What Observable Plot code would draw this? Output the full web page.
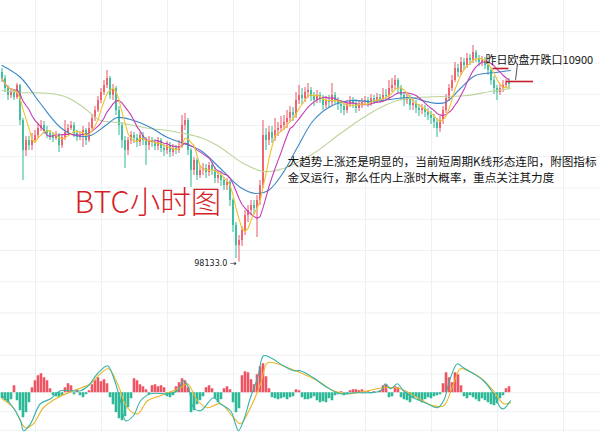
<!DOCTYPE html>
<html><head><meta charset="utf-8">
<script src="https://cdn.jsdelivr.net/npm/d3@7"></script>
<script src="https://cdn.jsdelivr.net/npm/@observablehq/plot@0.6"></script>
<style>
html,body{margin:0;padding:0;background:#fff;}
#wrap{width:600px;height:432px;overflow:hidden;}
#wrap svg{display:block;}
</style></head><body><div id="wrap"></div>
<script>
// ---- hourly candles (USD) ----
const firstOpen = 104196;
const closes = [104004,103684,103460,103556,103396,103780,102660,101700,102020,101860,
102020,102180,102404,102500,102340,102244,102148,102084,102180,101860,
102116,102276,102404,102500,102244,102116,102180,102340,102020,102404,
102724,102980,103300,103556,103780,104004,103460,103684,102980,102500,
102020,101700,102020,102180,102084,101956,102180,102020,101860,102020,
101956,101828,102020,101764,101700,101860,101636,101764,101700,101828,
102500,102660,101700,101060,101380,100900,101060,101124,100996,101220,
101060,100804,100900,100740,100580,100676,100100,99300,98660,98820,
99140,99620,99780,99940,99844,100100,100580,102180,102020,102276,
102084,102340,102404,102500,102596,102724,102916,102820,103300,103460,
103364,103556,103620,103428,103300,103460,103364,103140,103300,103236,
103460,103300,103172,103108,102980,103172,103300,103204,103044,103140,
103236,103300,103204,103364,103300,103396,103332,103460,103428,103684,
103780,103940,103684,103460,103300,103364,103140,103204,103044,102980,
103044,102916,102820,102724,102596,102404,102660,102980,103364,103684,
103940,104324,104196,104516,104420,104644,104580,104836,104644,104516,
104580,104420,104260,103940,103684,103556,103684,103780,103876,103812];
const highs = [104324,104100,103780,103684,103652,103844,103812,102724,102148,102148,
102244,102340,102564,102660,102628,102468,102340,102276,102308,102244,
102212,102660,102532,102628,102596,102340,102308,102468,102404,102596,
102852,103108,103428,103684,103940,104260,104068,103812,103748,103108,
102596,102148,102116,102308,102276,102212,102276,102276,102116,102148,
102116,102052,102116,102084,101892,101988,101956,101892,101860,102020,
102820,102884,102724,101764,101476,101444,101220,101284,101252,101316,
101316,101156,101028,100996,100836,100804,100740,100164,99396,98980,
99268,99780,99940,100100,100100,100260,100740,102660,102404,102468,
102468,102724,102596,102788,102820,102980,103108,103076,103556,103780,
103684,103716,103844,103716,103556,103620,103556,103460,103428,103460,
103844,103556,103396,103300,103204,103300,103428,103396,103332,103300,
103364,103428,103396,103492,103460,103524,103492,103684,103652,103940,
104004,104100,104004,103780,103556,103492,103460,103332,103300,103172,
103172,103140,103044,102948,102852,102724,102788,103108,103492,103812,
104100,104516,104452,104676,104644,104804,104772,105060,104900,104740,
104708,104676,104516,104324,104068,103780,103812,103940,103972,104004];
const lows = [103876,103556,103300,103364,103300,103332,102500,100740,101508,101700,
101700,101924,102084,102308,102212,102084,102020,101956,102020,101636,
101764,102020,102180,102340,102116,101988,102020,101796,101860,101956,
102340,102628,102916,103204,103460,103684,103332,103300,102820,102180,
101764,101124,101540,101892,101924,101796,101828,101860,101220,101700,
101796,101700,101700,101636,101508,101572,101476,101508,101572,101604,
101764,102340,101540,100516,100900,100740,100804,100900,100804,100868,
100900,100644,100644,100548,100420,100420,99908,99076,98244,98133,
98628,98980,99396,99620,99652,98916,99940,100484,101700,101860,
101924,101988,102148,102276,102340,102404,102596,102628,102724,103172,
103172,103236,103364,103268,103108,103204,103204,102980,103044,103044,
103108,103172,102980,102884,102820,102884,103076,103044,102884,102948,
103044,103140,103076,103108,103172,103204,103204,103236,103300,103332,
103556,103620,103524,103300,103108,103172,102980,102980,102884,102788,
102852,102756,102660,102532,102404,102116,102276,102532,102884,103268,
103588,103876,104036,104100,104260,104324,104420,104484,104516,104388,
104388,104292,104100,103780,103492,103300,103460,103556,103684,103684];

// ---- long moving averages (candle index, USD) ----
const maBlueT = [0,6.2,12.8,19.5,24.5,29.5,34.5,38.5,43.8,49.5,55.2,60.5,66.2,72.8,79.5,84.5,88.8,93.8,98.8,103.8,109.5,116.2,122.8,129.5,136.2,142.8,147.8,152.8,157.8,164.5,169.5];
const maBlueP = [104420,104036,103204,102436,102180,102180,102500,102756,102660,102436,102116,101924,101700,101124,100516,100324,100420,101000,101860,102660,103110,103300,103268,103332,103396,103236,103236,103684,104100,104196,104260];
const maOliveT = [0,6.2,16.2,21.8,27.2,32.8,38.5,43.8,49.5,55.2,60.5,66.2,71.8,80.5,87.2,93.8,103.8,112.8,120.5,126.2,131.8,138.5,146.2,155.2,162.8,169.5];
const maOliveP = [103620,103556,103524,103396,103076,102660,102596,102500,102404,102340,102244,102116,101860,101284,101028,101124,101604,102244,102756,103076,103300,103396,103428,103460,103588,103684];

// ---- MACD (histogram per candle, DIF / DEA read at points) ----
const macdHist = [-24,-32,-40,-28,28,-32,-72,-100,-80,-40,
20,48,68,76,60,48,16,-12,-16,-20,
-12,20,36,28,-8,12,-12,-20,-8,8,
32,48,60,44,52,36,-20,-48,-80,-104,
-112,-96,-60,-24,56,48,32,24,12,-8,
28,32,24,28,20,-16,-20,-12,24,40,
56,48,20,-80,-72,-48,-32,-16,20,28,
16,-24,-40,-28,16,24,12,-40,-80,-64,
68,84,80,52,32,72,104,116,64,16,
-20,-24,-28,-24,-20,-28,-20,-16,12,8,
-20,-28,-28,-24,-16,-32,-40,-36,-40,-24,
-32,-12,-8,4,-12,-8,8,12,12,8,
12,4,4,-4,4,0,8,28,32,-20,
-16,24,20,-20,-28,-32,-40,-24,-20,-32,
-40,-28,-20,-24,-16,-12,-8,36,80,60,
40,80,72,28,-16,-24,-12,-20,-28,-36,
-24,-32,-40,-48,-52,-44,-24,-12,16,24];
const difT = [0,2.8,6.2,7.2,9.5,12.8,16.2,19.5,22.8,26.2,28.8,31.8,35.2,37.2,39.5,41.2,43.8,46.2,49.5,55.2,58.5,60.5,62.2,63.8,66.2,70.5,72.8,76.2,77.8,78.8,80.5,82.8,85.2,87.2,89.5,93.8,97.2,99.5,103.8,108.5,112.8,117.2,121.8,126.2,127.8,129.5,131.8,133.8,137.2,141.8,145.2,147.2,149.5,151.8,153.8,157.2,160.5,163.8,166.2,167.2,169.5];
const difV = [-12,-44,-112,-152,-124,-44,-24,8,8,8,28,76,108,60,-32,-112,-92,-32,-4,-4,8,48,20,-60,-72,-20,-44,-72,-124,-152,-112,-20,60,148,140,108,88,88,60,20,-4,0,0,8,36,16,36,8,-20,-44,-60,-32,60,116,100,76,48,-4,-60,-64,-32];
const deaT = [0,3.8,7.8,10.5,13.8,18.5,23.8,29.5,32.8,35.5,38.5,41.8,45.2,48.5,52.8,59.5,61.8,65.2,68.5,72.8,77.2,79.5,82.8,86.2,88.5,91.8,96.2,99.5,105.2,110.5,115.2,121.8,127.2,132.8,138.5,143.8,147.2,150.5,152.8,155.2,159.5,163.8,167.2,169.5];
const deaV = [-24,-60,-140,-124,-60,-20,8,36,76,96,36,-60,-84,-32,-12,20,36,-32,-60,-44,-100,-124,-60,36,120,116,96,80,48,8,-4,8,20,16,-20,-52,-52,36,96,88,60,8,-44,-40];

// ---- axes / grid values ----
const priceGrid = [105500,104500,103500,102500,101500,100500,99500,98500,97500,96500];
const timeGrid = [11.17,33.17,55.17,77.17,99.17,121.17,143.17,165.17,187.17];
const macdGrid = [150,75,0,-75,-150];

// ---- annotations ----
const gapLinesT1 = [163.5,168];
const gapLinesT2 = [168.8,177];
const gapLinesP = [104324,103908];
const leaderT = [171.8,171.2];
const leaderP = [104452,103972];
const notes = [
  {t:161.2, p:104580, text:"昨日欧盘开跌口10900", size:11},
  {t:95.2, p:101316, text:"大趋势上涨还是明显的，当前短周期K线形态连阳，附图指标", size:11.6},
  {t:95.2, p:100804, text:"金叉运行，那么任内上涨时大概率，重点关注其力度", size:11.6}
];
const title = [{t:24.2, p:100000, text:"BTC小时图"}];
const lowLabel = [{t:78.2, p:98090, text:"98133.0 →"}];

const UP = "#ee5463", DOWN = "#2cb997", GRID = "#eef1f3";
const FONT = "'Noto Sans CJK SC','Noto Sans',sans-serif";

const candles = closes.map((c, i) => ({
  i, open: i ? closes[i - 1] : firstOpen, close: c, high: highs[i], low: lows[i]
}));
const col = d => d.close >= d.open ? UP : DOWN;
const blue = maBlueT.map((t, k) => ({t, p: maBlueP[k]}));
const olive = maOliveT.map((t, k) => ({t, p: maOliveP[k]}));
const gaps = gapLinesP.map((p, k) => ({t1: gapLinesT1[k], t2: gapLinesT2[k], p}));
const leader = leaderT.map((t, k) => ({t, p: leaderP[k]}));

const X = {domain: [-0.5, 199.5], range: [0, 600]};

const main = Plot.plot({
  width: 600, height: 340, margin: 0,
  x: {...X, axis: null},
  y: {domain: [95620, 106500], range: [340, 0], axis: null},
  style: {fontFamily: FONT, background: "transparent"},
  marks: [
    Plot.ruleY(priceGrid, {stroke: GRID}),
    Plot.ruleX(timeGrid, {stroke: GRID}),
    Plot.ruleX(candles, {x: "i", y1: "low", y2: "high", stroke: col, strokeWidth: 1}),
    Plot.ruleX(candles, {x: "i", y1: "open", y2: "close", stroke: col, strokeWidth: 1.6}),
    Plot.line(olive, {x: "t", y: "p", stroke: "#bcd49a", strokeWidth: 1.1, curve: "catmull-rom"}),
    Plot.line(blue, {x: "t", y: "p", stroke: "#3d86c6", strokeWidth: 1.1, curve: "catmull-rom"}),
    Plot.lineY(candles, Plot.windowY({k: 10, anchor: "end", reduce: "mean"}, {x: "i", y: "close", stroke: "#c53db4", strokeWidth: 1.1})),
    Plot.lineY(candles, Plot.windowY({k: 5, anchor: "end", reduce: "mean"}, {x: "i", y: "close", stroke: "#f1c232", strokeWidth: 1.1})),
    Plot.link(gaps, {x1: "t1", x2: "t2", y1: "p", y2: "p", stroke: "#c3202b", strokeWidth: 1.6}),
    Plot.line(leader, {x: "t", y: "p", stroke: "#222", strokeWidth: 0.8}),
    Plot.text(notes, {x: "t", y: "p", text: "text", textAnchor: "start", fontSize: d => d.size, fill: "#111", fontFamily: FONT}),
    Plot.text(title, {x: "t", y: "p", text: "text", textAnchor: "start", fontSize: 30.5, fill: "#d61f28", fontWeight: 300, fontFamily: FONT}),
    Plot.text(lowLabel, {x: "t", y: "p", text: "text", textAnchor: "end", fontSize: 8, fill: "#222", fontFamily: "'DejaVu Sans',sans-serif"})
  ]
});

const hist = macdHist.map((v, i) => ({i, v}));
const dif = difT.map((t, k) => ({t, v: difV[k]}));
const dea = deaT.map((t, k) => ({t, v: deaV[k]}));

const macd = Plot.plot({
  width: 600, height: 92, margin: 0,
  x: {...X, axis: null},
  y: {domain: [-159, 209], range: [92, 0], axis: null},
  style: {background: "transparent"},
  marks: [
    Plot.ruleY(macdGrid, {stroke: GRID}),
    Plot.ruleX(timeGrid, {stroke: GRID}),
    Plot.ruleX(hist, {x: "i", y1: 0, y2: "v", stroke: d => d.v >= 0 ? UP : DOWN, strokeWidth: 2.6}),
    Plot.line(dea, {x: "t", y: "v", stroke: "#e9b628", strokeWidth: 1.1, curve: "catmull-rom"}),
    Plot.line(dif, {x: "t", y: "v", stroke: "#36b3a8", strokeWidth: 1.1, curve: "catmull-rom"})
  ]
});

const wrap = document.getElementById("wrap");
wrap.appendChild(main);
wrap.appendChild(macd);
</script></body></html>
